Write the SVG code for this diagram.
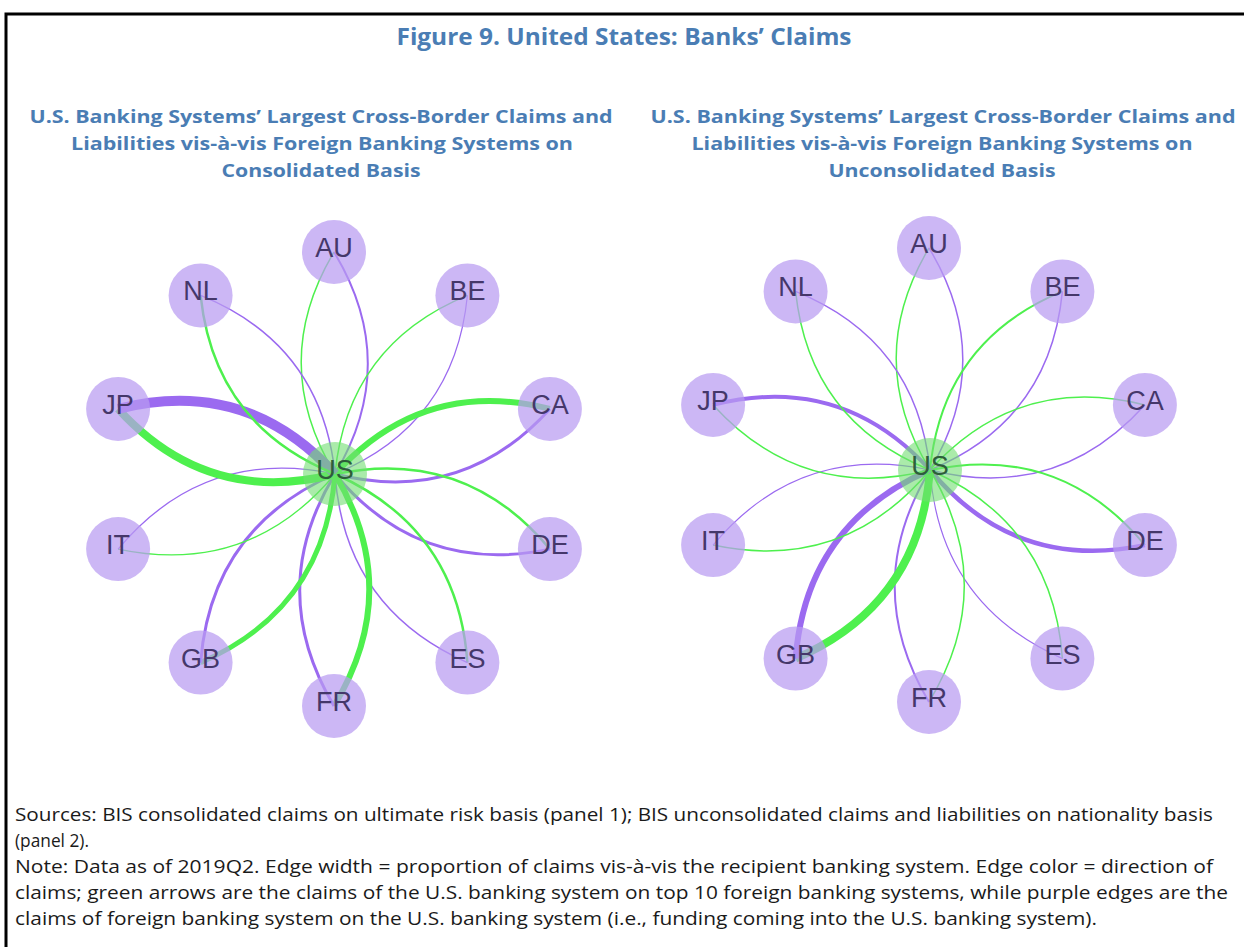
<svg xmlns="http://www.w3.org/2000/svg" width="1244" height="947" viewBox="0 0 1244 947">
<style>
.ttl{font-family:"Open Sans","Liberation Sans",sans-serif;font-weight:bold;fill:#4a7db4;text-anchor:middle}
.ft{font-family:"Open Sans","Liberation Sans",sans-serif;font-size:18.5px;fill:#1a1a1a}
.g{fill:none;stroke:#4ef04e}
.p{fill:none;stroke:#9b6af0}
.n{fill:#b89bf1;opacity:0.72}
.u{fill:#71de71;opacity:0.6}
.lb{font-family:"Liberation Sans",Arial,sans-serif;font-size:27px;fill:#45376a;text-anchor:middle}
.lu{font-family:"Liberation Sans",Arial,sans-serif;font-size:27px;fill:#2d5e3a;text-anchor:middle}
</style>
<rect width="1244" height="947" fill="#ffffff"/>
<path d="M6,947 V14 H1244" fill="none" stroke="#000" stroke-width="3"/>
<text class="ttl" x="624" y="45" font-size="24" textLength="455" lengthAdjust="spacingAndGlyphs">Figure 9. United States: Banks’ Claims</text>
<g id="subtitle-left">
<text class="ttl" x="321" y="123" font-size="18" textLength="583" lengthAdjust="spacingAndGlyphs">U.S. Banking Systems’ Largest Cross-Border Claims and</text>
<text class="ttl" x="322" y="150" font-size="18" textLength="502" lengthAdjust="spacingAndGlyphs">Liabilities vis-à-vis Foreign Banking Systems on</text>
<text class="ttl" x="321" y="177" font-size="18" textLength="199" lengthAdjust="spacingAndGlyphs">Consolidated Basis</text>
</g>
<g id="subtitle-right">
<text class="ttl" x="943" y="123" font-size="18" textLength="585" lengthAdjust="spacingAndGlyphs">U.S. Banking Systems’ Largest Cross-Border Claims and</text>
<text class="ttl" x="942" y="150" font-size="18" textLength="501" lengthAdjust="spacingAndGlyphs">Liabilities vis-à-vis Foreign Banking Systems on</text>
<text class="ttl" x="942" y="177" font-size="18" textLength="227" lengthAdjust="spacingAndGlyphs">Unconsolidated Basis</text>
</g>

<g id="panel1">
<g id="edges1">
<path class="g" stroke-width="1.5" d="M335,474 Q267.9,363.3 334,252"/>
<path class="p" stroke-width="2" d="M335,474 Q401.1,362.7 334,252"/>
<path class="g" stroke-width="1.5" d="M335,474 Q347.6,345 467.4,295.4"/>
<path class="p" stroke-width="1.2" d="M335,474 Q454.8,424.4 467.4,295.4"/>
<path class="g" stroke-width="6" d="M335,474 Q423,377 549.9,408.9"/>
<path class="p" stroke-width="3" d="M335,474 Q462,506 549.9,408.9"/>
<path class="g" stroke-width="2.5" d="M335,474 Q465,447.1 549.9,549.1"/>
<path class="p" stroke-width="3" d="M335,474 Q420,576.1 549.9,549.1"/>
<path class="g" stroke-width="2.5" d="M335,474 Q457.8,528.6 467.4,662.6"/>
<path class="p" stroke-width="1.5" d="M335,474 Q344.6,608 467.4,662.6"/>
<path class="g" stroke-width="6" d="M335,474 Q404.1,590.3 334,706"/>
<path class="p" stroke-width="3" d="M335,474 Q264.9,589.7 334,706"/>
<path class="g" stroke-width="5" d="M335,474 Q324.4,608.6 200.6,662.6"/>
<path class="p" stroke-width="3" d="M335,474 Q211.2,528 200.6,662.6"/>
<path class="g" stroke-width="1.3" d="M335,474 Q249.1,576.7 118.1,549.1"/>
<path class="p" stroke-width="1.3" d="M335,474 Q204.1,446.5 118.1,549.1"/>
<path class="g" stroke-width="8" d="M335,474 Q207.1,506.6 118.1,408.9"/>
<path class="p" stroke-width="10" d="M335,474 Q246.1,376.4 118.1,408.9"/>
<path class="g" stroke-width="2.5" d="M335,474 Q214.2,425 200.6,295.4"/>
<path class="p" stroke-width="1.5" d="M335,474 Q321.4,344.4 200.6,295.4"/>
</g>
<g id="p1-US"><circle class="u" cx="335" cy="474" r="32"/><text class="lu" x="335" y="479">US</text></g>
<g id="p1-AU"><circle class="n" cx="334" cy="252" r="32"/><text class="lb" x="334" y="257">AU</text></g>
<g id="p1-BE"><circle class="n" cx="467.4" cy="295.4" r="32"/><text class="lb" x="467.4" y="300.4">BE</text></g>
<g id="p1-CA"><circle class="n" cx="549.9" cy="408.9" r="32"/><text class="lb" x="549.9" y="413.9">CA</text></g>
<g id="p1-DE"><circle class="n" cx="549.9" cy="549.1" r="32"/><text class="lb" x="549.9" y="554.1">DE</text></g>
<g id="p1-ES"><circle class="n" cx="467.4" cy="662.6" r="32"/><text class="lb" x="467.4" y="667.6">ES</text></g>
<g id="p1-FR"><circle class="n" cx="334" cy="706" r="32"/><text class="lb" x="334" y="711">FR</text></g>
<g id="p1-GB"><circle class="n" cx="200.6" cy="662.6" r="32"/><text class="lb" x="200.6" y="667.6">GB</text></g>
<g id="p1-IT"><circle class="n" cx="118.1" cy="549.1" r="32"/><text class="lb" x="118.1" y="554.1">IT</text></g>
<g id="p1-JP"><circle class="n" cx="118.1" cy="408.9" r="32"/><text class="lb" x="118.1" y="413.9">JP</text></g>
<g id="p1-NL"><circle class="n" cx="200.6" cy="295.4" r="32"/><text class="lb" x="200.6" y="300.4">NL</text></g>
</g>

<g id="panel2" transform="translate(595,-4)">
<g id="edges2">
<path class="g" stroke-width="1.5" d="M335,474 Q267.9,363.3 334,252"/>
<path class="p" stroke-width="1.5" d="M335,474 Q401.1,362.7 334,252"/>
<path class="g" stroke-width="2" d="M335,474 Q347.6,345 467.4,295.4"/>
<path class="p" stroke-width="1.5" d="M335,474 Q454.8,424.4 467.4,295.4"/>
<path class="g" stroke-width="1.5" d="M335,474 Q423,377 549.9,408.9"/>
<path class="p" stroke-width="1.5" d="M335,474 Q462,506 549.9,408.9"/>
<path class="g" stroke-width="2" d="M335,474 Q465,447.1 549.9,549.1"/>
<path class="p" stroke-width="4.5" d="M335,474 Q420,576.1 549.9,549.1"/>
<path class="g" stroke-width="1.5" d="M335,474 Q457.8,528.6 467.4,662.6"/>
<path class="p" stroke-width="1.2" d="M335,474 Q344.6,608 467.4,662.6"/>
<path class="g" stroke-width="1.5" d="M335,474 Q404.1,590.3 334,706"/>
<path class="p" stroke-width="2" d="M335,474 Q264.9,589.7 334,706"/>
<path class="g" stroke-width="8" d="M335,474 Q324.4,608.6 200.6,662.6"/>
<path class="p" stroke-width="6" d="M335,474 Q211.2,528 200.6,662.6"/>
<path class="g" stroke-width="1.5" d="M335,474 Q249.1,576.7 118.1,549.1"/>
<path class="p" stroke-width="1.2" d="M335,474 Q204.1,446.5 118.1,549.1"/>
<path class="g" stroke-width="1.5" d="M335,474 Q207.1,506.6 118.1,408.9"/>
<path class="p" stroke-width="4" d="M335,474 Q246.1,376.4 118.1,408.9"/>
<path class="g" stroke-width="1.5" d="M335,474 Q214.2,425 200.6,295.4"/>
<path class="p" stroke-width="1.5" d="M335,474 Q321.4,344.4 200.6,295.4"/>
</g>
<g id="p2-US"><circle class="u" cx="335" cy="474" r="32"/><text class="lu" x="335" y="479">US</text></g>
<g id="p2-AU"><circle class="n" cx="334" cy="252" r="32"/><text class="lb" x="334" y="257">AU</text></g>
<g id="p2-BE"><circle class="n" cx="467.4" cy="295.4" r="32"/><text class="lb" x="467.4" y="300.4">BE</text></g>
<g id="p2-CA"><circle class="n" cx="549.9" cy="408.9" r="32"/><text class="lb" x="549.9" y="413.9">CA</text></g>
<g id="p2-DE"><circle class="n" cx="549.9" cy="549.1" r="32"/><text class="lb" x="549.9" y="554.1">DE</text></g>
<g id="p2-ES"><circle class="n" cx="467.4" cy="662.6" r="32"/><text class="lb" x="467.4" y="667.6">ES</text></g>
<g id="p2-FR"><circle class="n" cx="334" cy="706" r="32"/><text class="lb" x="334" y="711">FR</text></g>
<g id="p2-GB"><circle class="n" cx="200.6" cy="662.6" r="32"/><text class="lb" x="200.6" y="667.6">GB</text></g>
<g id="p2-IT"><circle class="n" cx="118.1" cy="549.1" r="32"/><text class="lb" x="118.1" y="554.1">IT</text></g>
<g id="p2-JP"><circle class="n" cx="118.1" cy="408.9" r="32"/><text class="lb" x="118.1" y="413.9">JP</text></g>
<g id="p2-NL"><circle class="n" cx="200.6" cy="295.4" r="32"/><text class="lb" x="200.6" y="300.4">NL</text></g>
</g>

<g id="footer">
<text class="ft" x="15" y="821" textLength="1198" lengthAdjust="spacingAndGlyphs">Sources: BIS consolidated claims on ultimate risk basis (panel 1); BIS unconsolidated claims and liabilities on nationality basis</text>
<text class="ft" x="15" y="847" textLength="74" lengthAdjust="spacingAndGlyphs">(panel 2).</text>
<text class="ft" x="15" y="873" textLength="1198" lengthAdjust="spacingAndGlyphs">Note: Data as of 2019Q2. Edge width = proportion of claims vis-à-vis the recipient banking system. Edge color = direction of</text>
<text class="ft" x="15" y="899" textLength="1213" lengthAdjust="spacingAndGlyphs">claims; green arrows are the claims of the U.S. banking system on top 10 foreign banking systems, while purple edges are the</text>
<text class="ft" x="15" y="925" textLength="1082" lengthAdjust="spacingAndGlyphs">claims of foreign banking system on the U.S. banking system (i.e., funding coming into the U.S. banking system).</text>
</g>
</svg>
